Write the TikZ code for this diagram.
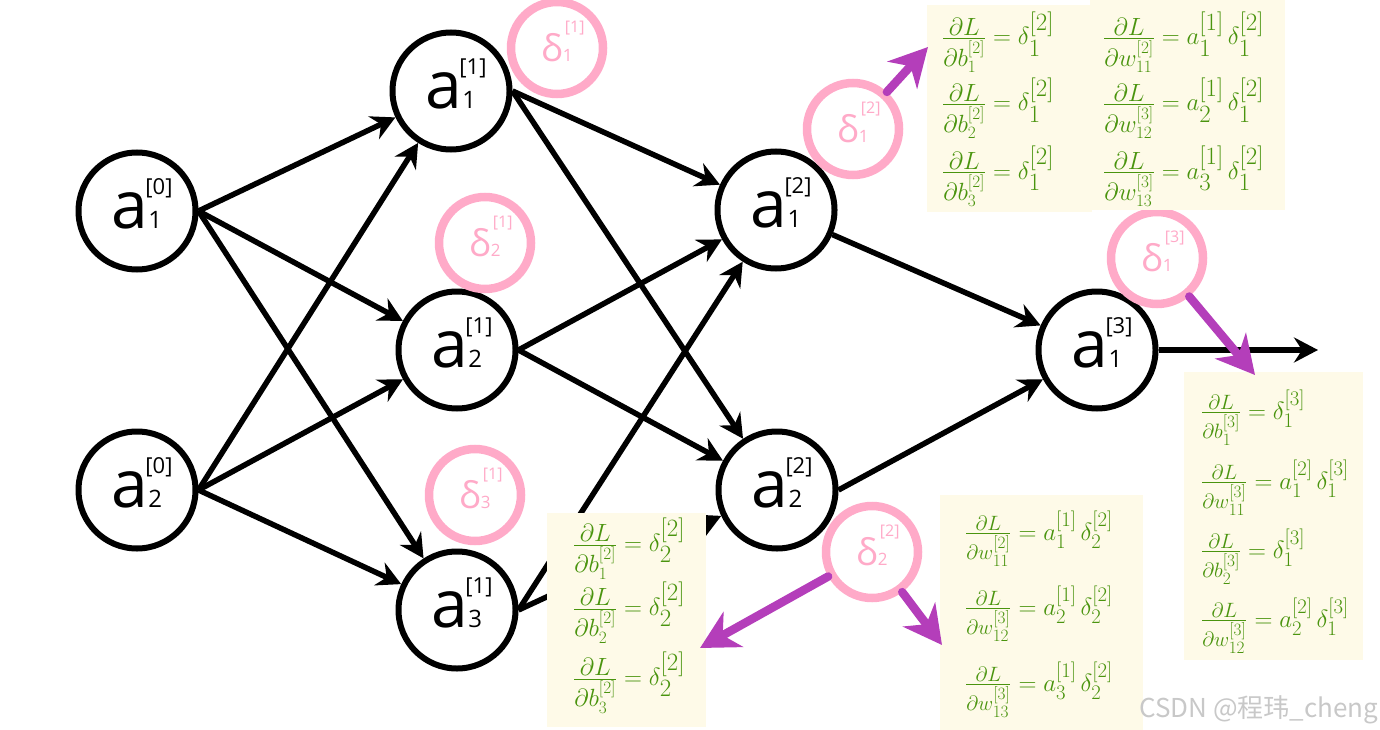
\documentclass[tikz,border=0pt]{standalone}
\usepackage[no-math]{fontspec}
\usepackage{amsmath}
\usetikzlibrary{arrows.meta}
\newfontfamily\nnfont{Open Sans}
\newfontfamily\cjkfont{Noto Sans CJK SC}
\definecolor{deltapink}{RGB}{255,170,200}
\definecolor{gradpurple}{RGB}{180,62,186}
\definecolor{boxyellow}{RGB}{254,250,232}
\definecolor{gradgreen}{RGB}{74,148,14}
\definecolor{markgray}{RGB}{200,200,200}
\newcommand{\actlabel}[2]{a\makebox[0pt][l]{\hspace{-3pt}\smash{\raisebox{34pt}{\fontsize{22}{22}\selectfont[#2]}}}{\fontsize{24}{24}\selectfont #1}}
\newcommand{\deltalabel}[2]{δ\makebox[0pt][l]{\hspace{2pt}\smash{\raisebox{29pt}{\fontsize{16}{16}\selectfont[#2]}}}{\fontsize{17}{17}\selectfont #1}}
\tikzset{
  neuron/.style={circle, draw, line width=6pt, fill=white, minimum size=117pt, inner sep=0pt,
    font=\nnfont\fontsize{66}{70}\selectfont},
  deltanode/.style={circle, draw=deltapink, text=deltapink, line width=8.5pt, minimum size=92pt, inner sep=0pt,
    font=\nnfont\fontsize{37}{40}\selectfont},
  wire/.style={line width=5.5pt, -{Stealth[length=24pt,width=25pt,inset=8pt]}},
  gradarrow/.style={gradpurple, line width=8.5pt, line cap=round, -{Stealth[length=38pt,width=40pt,inset=12pt]}},
  gradbox/.style={fill=boxyellow},
  formula/.style={anchor=base west, inner sep=0pt, text=gradgreen, font=\fontsize{#1}{#1}\selectfont},
  formula/.default=32,
}
\begin{document}
\begin{tikzpicture}[x=1pt,y=-1pt]
\useasboundingbox (0,0) rectangle (1380,730);

% neurons
\node[neuron] (a01) at (137,211) {\actlabel{1}{0}};
\node[neuron] (a02) at (137,490) {\actlabel{2}{0}};
\node[neuron] (a11) at (451,91) {\actlabel{1}{1}};
\node[neuron] (a21) at (457,350) {\actlabel{2}{1}};
\node[neuron] (a31) at (457,610) {\actlabel{3}{1}};
\node[neuron] (a12) at (776,210) {\actlabel{1}{2}};
\node[neuron] (a22) at (777,490) {\actlabel{2}{2}};
\node[neuron] (a13) at (1097,350) {\actlabel{1}{3}};
\coordinate (out) at (1318,350);

% connections
\draw[wire] (a01.east) -- (a11);
\draw[wire] (a01.east) -- (a21);
\draw[wire] (a01.east) -- (a31);
\draw[wire] (a02.east) -- (a11);
\draw[wire] (a02.east) -- (a21);
\draw[wire] (a02.east) -- (a31);
\draw[wire] (a11.east) -- (a12);
\draw[wire] (a11.east) -- (a22);
\draw[wire] (a21.east) -- (a12);
\draw[wire] (a21.east) -- (a22);
\draw[wire] (a31.east) -- (a12);
\draw[wire] (a31.east) -- (a22);
\draw[wire] (a12) -- (a13);
\draw[wire] (a22.east) -- (a13);
\draw[wire] (a13.east) -- (out);

% errors
\node[deltanode] (d11) at (557,48) {\deltalabel{1}{1}};
\node[deltanode] (d21) at (485,243) {\deltalabel{2}{1}};
\node[deltanode] (d31) at (475,495) {\deltalabel{3}{1}};
\node[deltanode] (d12) at (853,129) {\deltalabel{1}{2}};
\node[deltanode] (d22) at (872,552) {\deltalabel{2}{2}};
\node[deltanode] (d13) at (1157,258) {\deltalabel{1}{3}};

% gradient boxes
\fill[gradbox] (927,5) rectangle (1092,212);
\fill[gradbox] (1090,0) rectangle (1285,210);
\fill[gradbox] (1184,372) rectangle (1363,660);
\fill[gradbox] (547,513) rectangle (706,727);
\fill[gradbox] (940,495) rectangle (1143,730);

\node[formula=37] (gb12) at (942,45) {$\frac{\partial L}{\partial b_1^{[2]}} = \delta_1^{[2]}$};
\node[formula=37] (gb22) at (942,111) {$\frac{\partial L}{\partial b_2^{[2]}} = \delta_1^{[2]}$};
\node[formula=37] (gb32) at (942,179) {$\frac{\partial L}{\partial b_3^{[2]}} = \delta_1^{[2]}$};
\node[formula=35] (gw112) at (1103,45) {$\frac{\partial L}{\partial w_{11}^{[2]}} = a_1^{[1]}\,\delta_1^{[2]}$};
\node[formula=35] (gw123) at (1103,111) {$\frac{\partial L}{\partial w_{12}^{[3]}} = a_2^{[1]}\,\delta_1^{[2]}$};
\node[formula=35] (gw133) at (1103,179) {$\frac{\partial L}{\partial w_{13}^{[3]}} = a_3^{[1]}\,\delta_1^{[2]}$};

\node[formula] (hb13) at (1201,419) {$\frac{\partial L}{\partial b_1^{[3]}} = \delta_1^{[3]}$};
\node[formula] (hw113) at (1201,489) {$\frac{\partial L}{\partial w_{11}^{[3]}} = a_1^{[2]}\,\delta_1^{[3]}$};
\node[formula] (hb23) at (1201,558) {$\frac{\partial L}{\partial b_2^{[3]}} = \delta_1^{[3]}$};
\node[formula] (hw123) at (1201,627) {$\frac{\partial L}{\partial w_{12}^{[3]}} = a_2^{[2]}\,\delta_1^{[3]}$};

\node[formula=34] (kb12) at (573,551.5) {$\frac{\partial L}{\partial b_1^{[2]}} = \delta_2^{[2]}$};
\node[formula=34] (kb22) at (573,615.5) {$\frac{\partial L}{\partial b_2^{[2]}} = \delta_2^{[2]}$};
\node[formula=34] (kb32) at (573,685.5) {$\frac{\partial L}{\partial b_3^{[2]}} = \delta_2^{[2]}$};

\node[formula] (kw112) at (965,540) {$\frac{\partial L}{\partial w_{11}^{[2]}} = a_1^{[1]}\,\delta_2^{[2]}$};
\node[formula] (kw123) at (965,615) {$\frac{\partial L}{\partial w_{12}^{[3]}} = a_2^{[1]}\,\delta_2^{[2]}$};
\node[formula] (kw133) at (965,691) {$\frac{\partial L}{\partial w_{13}^{[3]}} = a_3^{[1]}\,\delta_2^{[2]}$};

% backprop arrows
\coordinate (t12) at (928,47);
\coordinate (t13) at (1255,375);
\coordinate (t22a) at (700,648);
\coordinate (t22b) at (942,645);
\draw[gradarrow] (d12) -- (t12);
\draw[gradarrow] (d13) -- (t13);
\draw[gradarrow] (d22) -- (t22a);
\draw[gradarrow] (d22) -- (t22b);

\node[anchor=base west, inner sep=0pt, text=markgray, font=\cjkfont\fontsize{26}{26}\selectfont] (mark) at (1139,717) {CSDN @程玮\_cheng};
\end{tikzpicture}
\end{document}
